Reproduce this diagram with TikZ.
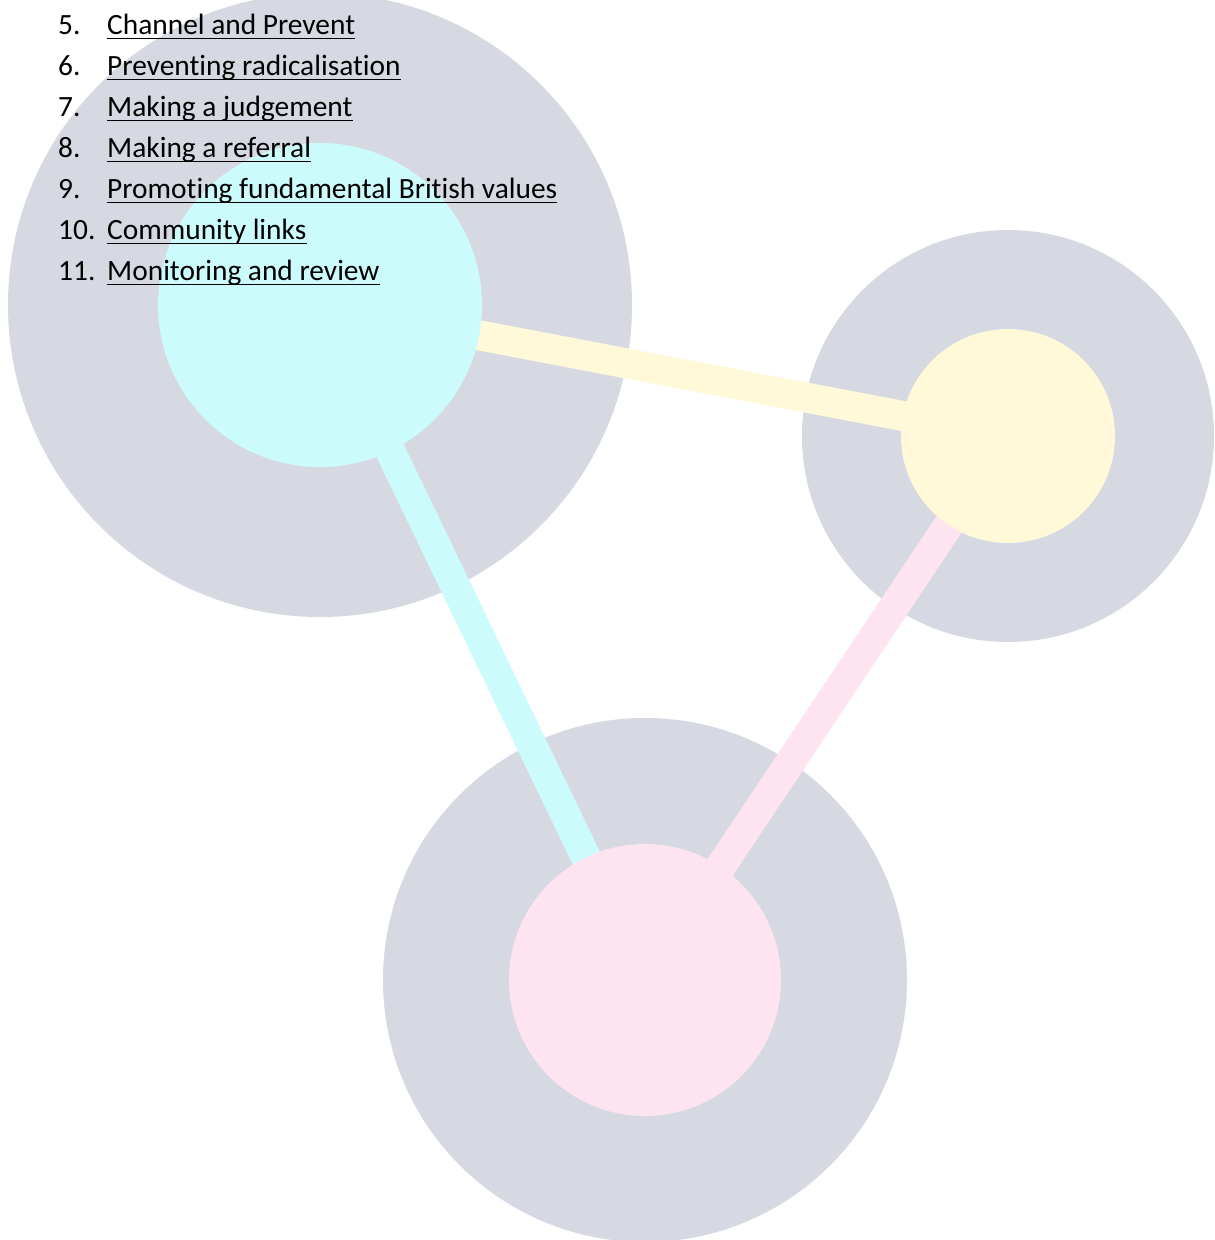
\documentclass[tikz,border=0pt]{standalone}
\usepackage{fontspec}
\setmainfont{Carlito}[Ligatures={NoCommon}]
\definecolor{ringgray}{RGB}{215,217,226}
\definecolor{cyanfill}{RGB}{204,251,252}
\definecolor{yellowfill}{RGB}{255,249,217}
\definecolor{pinkfill}{RGB}{253,228,240}
\begin{document}
\begin{tikzpicture}[x=1pt,y=-1pt,
  ring/.style={circle,inner sep=0pt,draw=none,fill=ringgray},
  hub/.style={circle,inner sep=0pt,draw=none},
  band/.style={line width=30pt},
  itemtext/.style={inner sep=0pt,anchor=base west,font=\fontsize{29.4}{34}\selectfont},
  uline/.style={line width=1.8pt}]
\useasboundingbox (0,0) rectangle (1215,1240);
\clip (0,0) rectangle (1215,1240);
\fill[white] (0,0) rectangle (1215,1240);
% rings
\node[ring,minimum size=624pt] (r1) at (320,305) {};
\node[ring,minimum size=412pt] (r2) at (1008,436) {};
\node[ring,minimum size=524pt] (r3) at (645,980) {};
% bands
\coordinate (p1) at (320,305);
\coordinate (p2) at (1008,436);
\coordinate (p3) at (645,980);
\draw[band,yellowfill] (p1) -- (p2);
\draw[band,cyanfill] (p1) -- (p3);
\draw[band,pinkfill] (p2) -- (p3);
% hubs
\node[hub,fill=cyanfill,minimum size=324pt] (h1) at (p1) {};
\node[hub,fill=yellowfill,minimum size=214pt] (h2) at (p2) {};
\node[hub,fill=pinkfill,minimum size=272pt] (h3) at (p3) {};
% list
\foreach \n/\t [count=\i from 0] in {5./Channel and Prevent,6./Preventing radicalisation,7./Making a judgement,8./Making a referral,9./Promoting fundamental British values,10./Community links,11./Monitoring and review}{
  \node[itemtext] (num\i) at (58,34+41*\i) {\n};
  \node[itemtext] (txt\i) at (107,34+41*\i) {\t};
  \draw[uline] ([yshift=-4.5pt]txt\i.base west) -- ([yshift=-4.5pt]txt\i.base east);
}
\end{tikzpicture}
\end{document}
